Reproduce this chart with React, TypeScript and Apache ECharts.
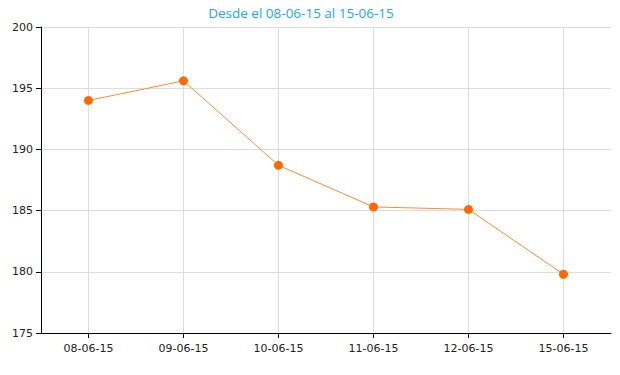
import React, { useEffect, useRef } from "react";
import * as echarts from "echarts";

const categories = ["08-06-15", "09-06-15", "10-06-15", "11-06-15", "12-06-15", "15-06-15"];
const values = [194.0, 195.6, 188.7, 185.3, 185.1, 179.8];
const titleText = "Desde el 08-06-15 al 15-06-15";

export default function App() {
  const ref = useRef<HTMLDivElement>(null);
  useEffect(() => {
    if (!ref.current) return;
    const chart = echarts.init(ref.current, null, { renderer: "svg" });
    chart.setOption({
      animation: false,
      backgroundColor: "#ffffff",
      title: {
        text: titleText,
        left: 296,
        textAlign: "center",
        top: 1,
        textStyle: { color: "#22a7e6", fontSize: 13.5, fontWeight: "normal", fontFamily: "Open Sans" },
      },
      grid: { left: 41, right: 9, top: 27, bottom: 42, containLabel: false },
      xAxis: {
        type: "category",
        data: categories,
        boundaryGap: true,
        axisLine: { lineStyle: { color: "#000", width: 1 } },
        axisTick: { show: true, alignWithLabel: true, length: 5, lineStyle: { color: "#000" } },
        axisLabel: { color: "#222", fontSize: 11, fontFamily: "DejaVu Sans", margin: 10 },
        splitLine: { show: false },
      },
      yAxis: {
        type: "value",
        min: 175,
        max: 200,
        interval: 5,
        axisLine: { show: true, lineStyle: { color: "#000", width: 1 } },
        axisTick: { show: true, length: 5, lineStyle: { color: "#000" } },
        axisLabel: { color: "#222", fontSize: 11, fontFamily: "DejaVu Sans", margin: 8 },
        splitLine: { show: true, lineStyle: { color: "#dddddd" } },
      },
      series: [
        {
          type: "line",
          data: values,
          symbol: "circle",
          symbolSize: 9,
          z: 3,
          lineStyle: { color: "#fb8a3c", width: 1 },
          itemStyle: { color: "#ff6a00" },
          markLine: {
            silent: true,
            symbol: ["none", "none"],
            label: { show: false },
            z: 1,
            lineStyle: { color: "#dddddd", type: "solid", width: 1 },
            data: categories.map((c) => ({ xAxis: c })),
          },
        },
      ],
    });
    return () => chart.dispose();
  }, []);
  return <div ref={ref} style={{ width: 620, height: 375, margin: -8 }} />;
}
